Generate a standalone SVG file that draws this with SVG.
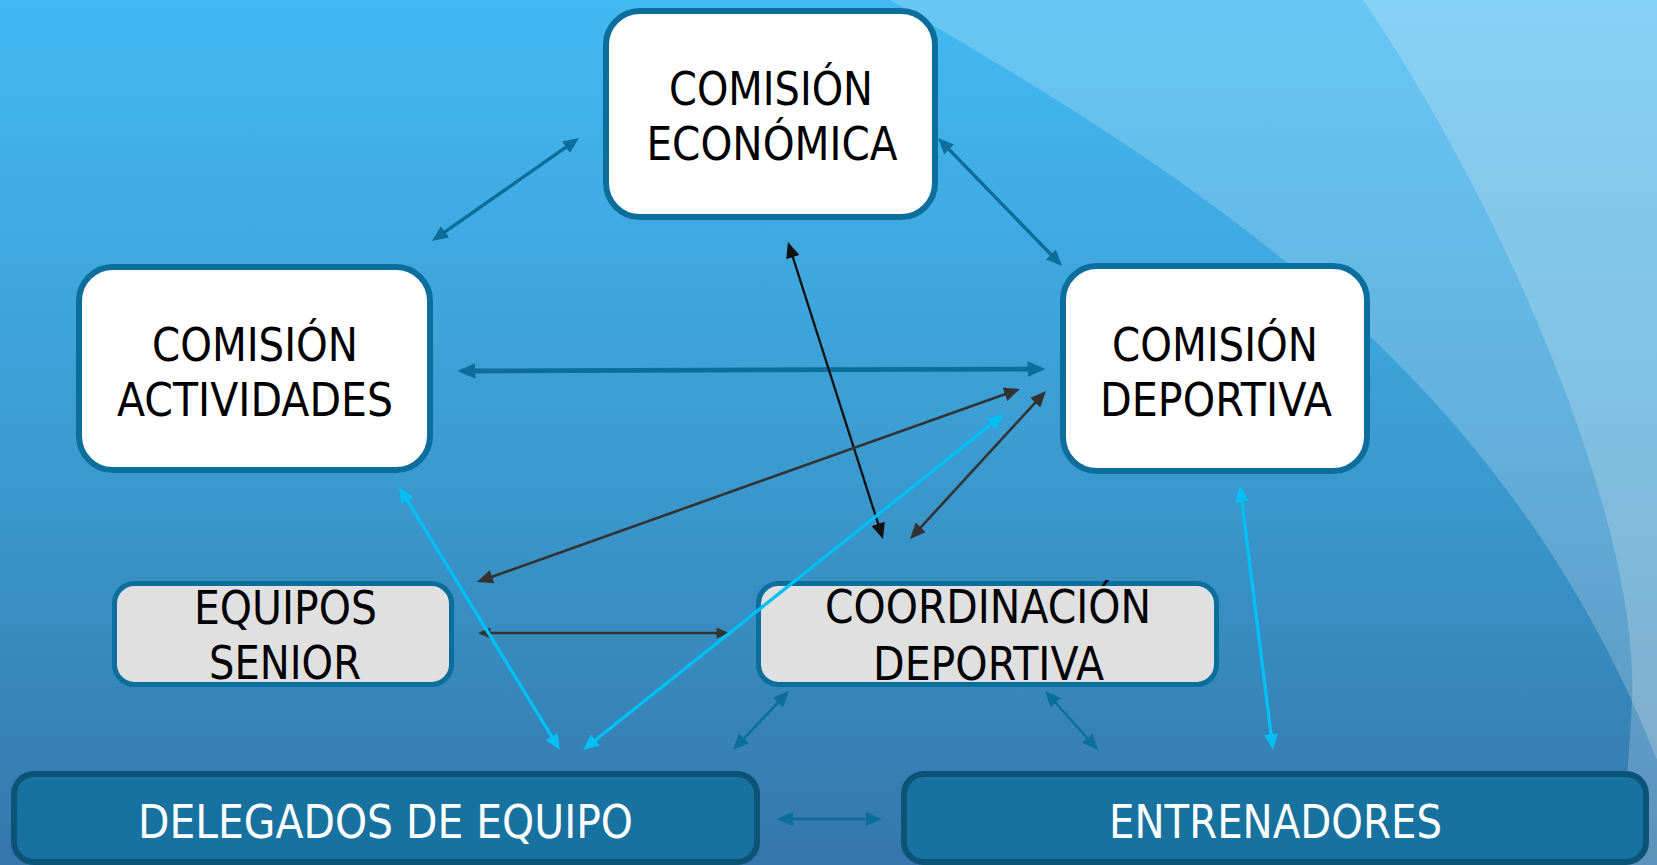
<svg xmlns="http://www.w3.org/2000/svg" width="1657" height="865" viewBox="0 0 1657 865">
<defs>
<linearGradient id="bg" x1="0" y1="0" x2="0" y2="1">
<stop offset="0" stop-color="#43b9f1"/>
<stop offset="0.5" stop-color="#3b9dd3"/>
<stop offset="1" stop-color="#3477aa"/>
</linearGradient>
<marker id="mTeal" viewBox="0 0 16 14" markerWidth="16" markerHeight="14" refX="12" refY="7" orient="auto-start-reverse" markerUnits="userSpaceOnUse"><path d="M0,0 L16,7 L0,14 Z" fill="#0b6e9c"/></marker>
<marker id="mTealL" viewBox="0 0 16 14" markerWidth="18" markerHeight="16" refX="12" refY="7" orient="auto-start-reverse" markerUnits="userSpaceOnUse"><path d="M0,0 L16,7 L0,14 Z" fill="#0b6e9c"/></marker>
<marker id="mBlack" viewBox="0 0 16 14" markerWidth="16" markerHeight="14" refX="12" refY="7" orient="auto-start-reverse" markerUnits="userSpaceOnUse"><path d="M0,0 L16,7 L0,14 Z" fill="#111"/></marker>
<marker id="mGray" viewBox="0 0 16 14" markerWidth="16" markerHeight="14" refX="12" refY="7" orient="auto-start-reverse" markerUnits="userSpaceOnUse"><path d="M0,0 L16,7 L0,14 Z" fill="#333"/></marker>
<marker id="mGrayS" viewBox="0 0 16 14" markerWidth="13" markerHeight="11" refX="12" refY="7" orient="auto-start-reverse" markerUnits="userSpaceOnUse"><path d="M0,0 L16,7 L0,14 Z" fill="#333"/></marker>
<marker id="mCyan" viewBox="0 0 16 14" markerWidth="16" markerHeight="14" refX="12" refY="7" orient="auto-start-reverse" markerUnits="userSpaceOnUse"><path d="M0,0 L16,7 L0,14 Z" fill="#00bff3"/></marker>
</defs>
<style>
.lbl{font-family:"DejaVu Sans","Liberation Sans",sans-serif;font-size:47px;text-anchor:middle;}
.dark{fill:#000;}
.light{fill:#fff;}
.white{fill:#fff;stroke:#0b6e9c;stroke-width:6;}
.gray{fill:#e0e0e0;stroke:#0b6e9c;stroke-width:5;}
.blue{fill:#17729f;stroke:#0b5478;stroke-width:6;}
.c{fill:none;stroke-linecap:butt;}
.teal{stroke:#0b6e9c;}
.blk{stroke:#111;}
.gry{stroke:#333;}
.cyan{stroke:#00bff3;}
</style>
<rect x="0" y="0" width="1657" height="865" fill="url(#bg)"/>
<path d="M890 0 C1180 170 1500 360 1657 760 L1657 0 Z" fill="#fff" fill-opacity="0.2"/>
<path d="M1363 0 C1500 200 1640 520 1632 700 C1628 780 1622 830 1620 865 L1657 865 L1657 0 Z" fill="#fff" fill-opacity="0.2"/>

<g id="economica">
<rect class="white" x="606" y="11" width="329" height="206" rx="34"/>
<text class="lbl dark" x="771" y="105" textLength="204" lengthAdjust="spacingAndGlyphs">COMISIÓN</text>
<text class="lbl dark" x="772" y="160" textLength="251" lengthAdjust="spacingAndGlyphs">ECONÓMICA</text>
</g>
<g id="actividades">
<rect class="white" x="79" y="267" width="351" height="203" rx="34"/>
<text class="lbl dark" x="255" y="361" textLength="206" lengthAdjust="spacingAndGlyphs">COMISIÓN</text>
<text class="lbl dark" x="255" y="416" textLength="276" lengthAdjust="spacingAndGlyphs">ACTIVIDADES</text>
</g>
<g id="deportiva">
<rect class="white" x="1063" y="266" width="304" height="205" rx="34"/>
<text class="lbl dark" x="1215" y="361" textLength="206" lengthAdjust="spacingAndGlyphs">COMISIÓN</text>
<text class="lbl dark" x="1216" y="416" textLength="232" lengthAdjust="spacingAndGlyphs">DEPORTIVA</text>
</g>
<g id="equipos">
<rect class="gray" x="114.5" y="583.5" width="337" height="101" rx="20"/>
<text class="lbl dark" x="285.5" y="624" textLength="183" lengthAdjust="spacingAndGlyphs">EQUIPOS</text>
<text class="lbl dark" x="285" y="679" textLength="152" lengthAdjust="spacingAndGlyphs">SENIOR</text>
</g>
<g id="coordinacion">
<rect class="gray" x="758.5" y="583.5" width="458" height="101" rx="20"/>
<text class="lbl dark" x="988" y="623" textLength="326" lengthAdjust="spacingAndGlyphs">COORDINACIÓN</text>
<text class="lbl dark" x="988.5" y="680" textLength="231" lengthAdjust="spacingAndGlyphs">DEPORTIVA</text>
</g>
<g id="delegados">
<rect class="blue" x="14" y="774" width="743" height="88" rx="20"/>
<text class="lbl light" x="385.5" y="838" textLength="495" lengthAdjust="spacingAndGlyphs">DELEGADOS DE EQUIPO</text>
</g>
<g id="entrenadores">
<rect class="blue" x="904" y="774" width="742" height="88" rx="20"/>
<text class="lbl light" x="1275.5" y="838" textLength="333" lengthAdjust="spacingAndGlyphs">ENTRENADORES</text>
</g>

<g id="connectors">
<line class="c teal" stroke-width="3.4" x1="435.3" y1="238.7" x2="575.7" y2="140.3" marker-start="url(#mTeal)" marker-end="url(#mTeal)"/>
<line class="c teal" stroke-width="3.4" x1="940.8" y1="140.9" x2="1059.2" y2="263.1" marker-start="url(#mTeal)" marker-end="url(#mTeal)"/>
<line class="c teal" stroke-width="4.8" x1="462" y1="371" x2="1041" y2="369" marker-start="url(#mTealL)" marker-end="url(#mTealL)"/>
<line class="c blk" stroke-width="2.3" x1="789.2" y1="245.8" x2="881.8" y2="535.2" marker-start="url(#mBlack)" marker-end="url(#mBlack)"/>
<line class="c gry" stroke-width="2.6" x1="480.8" y1="580.7" x2="1016.2" y2="390.3" marker-start="url(#mGray)" marker-end="url(#mGray)"/>
<line class="c gry" stroke-width="2.6" x1="912.7" y1="536.1" x2="1043.3" y2="393.9" marker-start="url(#mGray)" marker-end="url(#mGray)"/>
<line class="c gry" stroke-width="2.6" x1="481" y1="633" x2="726" y2="633" marker-start="url(#mGrayS)" marker-end="url(#mGrayS)"/>
<line class="c teal" stroke-width="2.4" x1="735.8" y1="747.1" x2="786.2" y2="693.9" marker-start="url(#mTeal)" marker-end="url(#mTeal)"/>
<line class="c teal" stroke-width="2.4" x1="1047.7" y1="694" x2="1095.3" y2="747" marker-start="url(#mTeal)" marker-end="url(#mTeal)"/>
<line class="c teal" stroke-width="2.4" x1="781" y1="819" x2="878" y2="819" marker-start="url(#mTeal)" marker-end="url(#mTeal)"/>
<line class="c cyan" stroke-width="3.4" x1="586.1" y1="747.5" x2="1000.9" y2="416.5" marker-start="url(#mCyan)" marker-end="url(#mCyan)"/>
<line class="c cyan" stroke-width="3.4" x1="401.1" y1="490.4" x2="557.9" y2="746.6" marker-start="url(#mCyan)" marker-end="url(#mCyan)"/>
<line class="c cyan" stroke-width="3.4" x1="1240.5" y1="490" x2="1272.5" y2="746" marker-start="url(#mCyan)" marker-end="url(#mCyan)"/>
</g>
</svg>
